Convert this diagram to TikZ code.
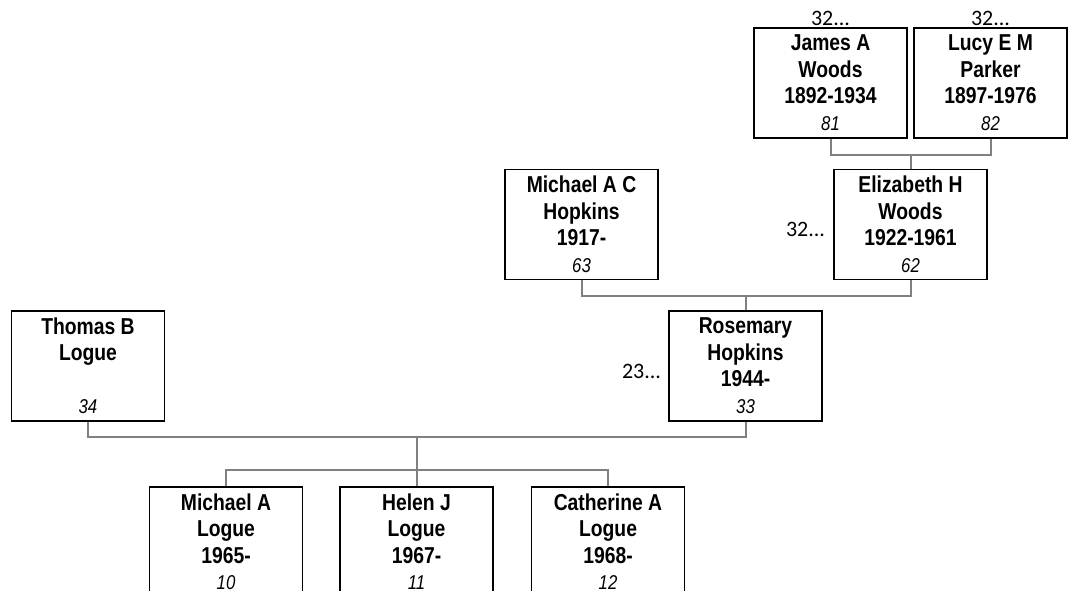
\documentclass[tikz,border=0pt]{standalone}
\usepackage{fontspec}
\setmainfont{Liberation Sans}
\newfontfamily\namefont[FakeStretch=0.84]{Liberation Sans}
\newfontfamily\reffont{Carlito}
\usetikzlibrary{calc,positioning}
\definecolor{linkgray}{RGB}{128,128,128}
\newcommand{\gennum}[1]{{\mdseries\itshape\fontsize{20}{26.5}\selectfont #1}}

\begin{document}
\begin{tikzpicture}[x=1pt,y=-1pt,
 box/.style={draw,line width=1.6pt,anchor=north,align=center,inner sep=0pt,minimum width=153pt,minimum height=110pt,font=\namefont\bfseries\fontsize{23}{26.5}\selectfont},
 link/.style={draw=linkgray,line width=2pt},
 more/.style={font=\reffont\fontsize{22}{24}\selectfont,inner sep=1pt}]
\useasboundingbox (0,0) rectangle (1073,591);
% grandparents
\node[box] (james) at (830.5,27) {James A\\Woods\\1892-1934\\\gennum{81}};
\node[box] (lucy) at (990.5,27) {Lucy E M\\Parker\\1897-1976\\\gennum{82}};
% parents of Rosemary
\node[box] (michaelc) at (581.5,168.5) {Michael A C\\Hopkins\\1917-\\\gennum{63}};
\node[box] (elizabeth) at (910.5,168.5) {Elizabeth H\\Woods\\1922-1961\\\gennum{62}};
% parents
\node[box] (thomas) at (88,310) {Thomas B\\Logue\\\mbox{}\\\gennum{34}};
\node[box] (rosemary) at (745.5,310) {Rosemary\\Hopkins\\1944-\\\gennum{33}};
% children
\node[box] (michael) at (226,486) {Michael A\\Logue\\1965-\\\gennum{10}};
\node[box] (helen) at (416.5,486) {Helen J\\Logue\\1967-\\\gennum{11}};
\node[box] (catherine) at (608,486) {Catherine A\\Logue\\1968-\\\gennum{12}};
% continuation marks
\node[more,anchor=south] (jamesmore) at (james.north) {32...};
\node[more,anchor=south] (lucymore) at (lucy.north) {32...};
\node[more,anchor=east] (elizabethmore) at ($(elizabeth.west)+(-7,5)$) {32...};
\node[more,anchor=east] (rosemarymore) at ($(rosemary.west)+(-6,6)$) {23...};
% family lines
\coordinate (wood) at ($(james.south)+(0,16)$);
\draw[link] (james.south) -- (wood) -| (lucy.south);
\draw[link] (elizabeth.north) -- (elizabeth.north |- wood);
\coordinate (hop) at ($(michaelc.south)+(0,15.5)$);
\draw[link] (michaelc.south) -- (hop) -| (elizabeth.south);
\draw[link] (rosemary.north) -- (rosemary.north |- hop);
\coordinate (log) at ($(thomas.south)+(0,15)$);
\draw[link] (thomas.south) -- (log) -| (rosemary.south);
\coordinate (kids) at ($(michael.north)+(0,-16)$);
\draw[link] (michael.north) -- (kids) -| (catherine.north);
\draw[link] (helen.north) -- (helen.north |- log);
\end{tikzpicture}
\end{document}
